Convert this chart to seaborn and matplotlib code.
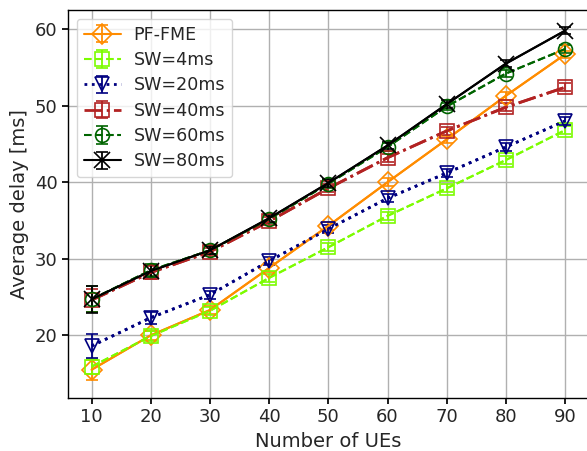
import matplotlib
matplotlib.use("Agg")
import matplotlib.pyplot as plt
import seaborn as sns
import numpy as np
import pandas as pd

ues = [10, 20, 30, 40, 50, 60, 70, 80, 90]
pf_fme = [15.5, 20.0, 23.3, 28.8, 34.3, 40.0, 45.6, 51.3, 56.7]
sw4 = [15.9, 19.9, 23.2, 27.5, 31.5, 35.6, 39.2, 42.9, 46.8]
sw20 = [18.6, 22.3, 25.3, 29.7, 33.9, 37.9, 41.2, 44.6, 48.0]
sw40 = [24.6, 28.2, 30.9, 34.9, 39.2, 43.2, 46.7, 49.8, 52.4]
sw60 = [24.7, 28.5, 31.1, 35.2, 39.8, 44.6, 49.9, 54.2, 57.4]
sw80 = [24.7, 28.4, 31.1, 35.3, 39.9, 44.8, 50.2, 55.5, 59.8]

err_pf = [1.3, 0.6, 0.5, 0.5, 0.5, 0.5, 0.5, 0.5, 0.5]
err_sw4 = [1.0, 0.6, 0.5, 0.5, 0.5, 0.5, 0.5, 0.5, 0.5]
err_sw20 = [1.6, 0.8, 0.5, 0.5, 0.5, 0.5, 0.5, 0.5, 0.5]
err_sw40 = [1.5, 0.8, 0.5, 0.5, 0.5, 0.5, 0.5, 0.5, 0.5]
err_sw60 = [1.7, 0.8, 0.5, 0.5, 0.5, 0.5, 0.5, 0.5, 0.5]
err_sw80 = [1.8, 0.8, 0.5, 0.5, 0.5, 0.5, 0.5, 0.5, 0.5]

labels = ["PF-FME", "SW=4ms", "SW=20ms", "SW=40ms", "SW=60ms", "SW=80ms"]
values = [pf_fme, sw4, sw20, sw40, sw60, sw80]
errors = [err_pf, err_sw4, err_sw20, err_sw40, err_sw60, err_sw80]
colors = ["darkorange", "lawngreen", "navy", "firebrick", "darkgreen", "black"]
markers = ["D", "s", "v", "s", "o", "x"]
styles = ["-", "--", ":", "-.", "--", "-"]
widths = [1.5, 1.5, 2.0, 2.0, 1.5, 1.5]
msizes = [10, 10, 10, 10, 10, 11]

sns.set_theme(style="ticks")
plt.rcParams["font.family"] = ["DejaVu Sans"]

fig = plt.figure(figsize=(5.87, 4.51), dpi=100)
ax = fig.add_axes([68 / 587, 53 / 451, 1.0 - 68 / 587 + 0.003, (398 - 10) / 451])

for lab, v, e, c, m, ls, lw, ms in zip(labels, values, errors, colors, markers, styles, widths, msizes):
    df = pd.DataFrame({"UEs": ues, "delay": v})
    sns.lineplot(data=df, x="UEs", y="delay", ax=ax, color=c, linestyle=ls, lw=lw,
                 legend=False, zorder=2)
    ax.errorbar(df["UEs"], df["delay"], yerr=e, color=c, linestyle=ls, lw=lw,
                marker=m, markersize=ms, fillstyle="none",
                markeredgewidth=1.2, capsize=4, elinewidth=1.3, label=lab, zorder=3)

ax.set_xlim(6, 94)
ax.set_ylim(11.8, 62.5)
ax.set_xticks(ues)
ax.set_yticks([20, 30, 40, 50, 60])
ax.grid(True, color="#b0b0b0", lw=1.0)
ax.tick_params(labelsize=13, direction="out", length=4, color="black")
for s in ax.spines.values():
    s.set_color("black")
    s.set_linewidth(1.0)
ax.set_xlabel("Number of UEs", fontsize=14)
ax.set_ylabel("Average delay [ms]", fontsize=14)
ax.legend(loc="upper left", fontsize=12.6, frameon=True, handlelength=2.1,
          handletextpad=0.75, borderpad=0.4, labelspacing=0.42)

fig.savefig("out.png", dpi=100)
